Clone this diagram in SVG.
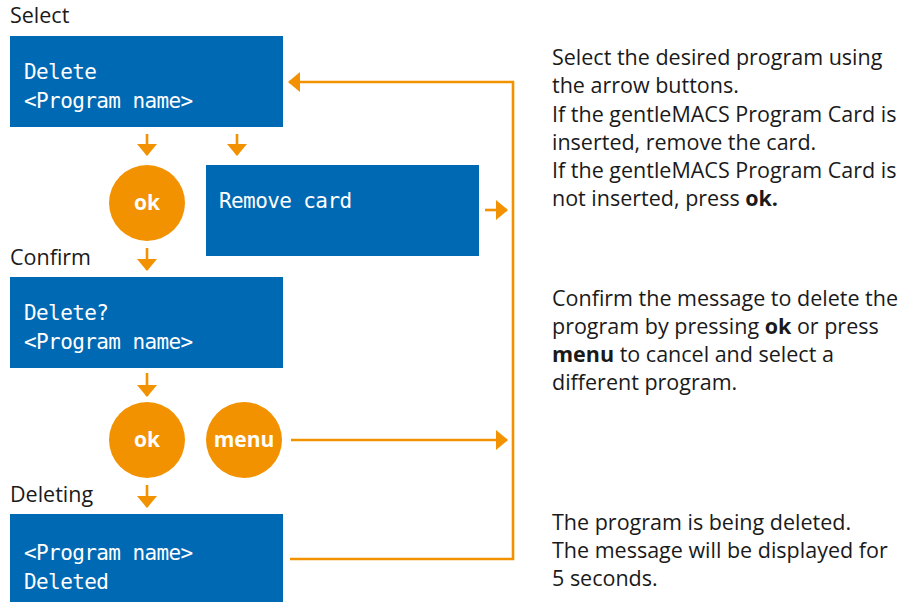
<svg xmlns="http://www.w3.org/2000/svg" width="908" height="602" viewBox="0 0 908 602">
<style>
.lcd{fill:#0069b4}
.lt{font-family:"DejaVu Sans Mono",monospace;font-size:21px;letter-spacing:-0.6px;fill:#ffffff}
.lbl{font-family:"Open Sans","Noto Sans",sans-serif;font-size:21.5px;fill:#1a1a1a}
.btn{fill:#f39200}
.bt{font-family:"Open Sans","Noto Sans",sans-serif;font-weight:bold;font-size:21px;fill:#ffffff;text-anchor:middle}
.desc{font-family:"Open Sans","Noto Sans",sans-serif;font-size:21.5px;fill:#1a1a1a}
.cn{fill:none;stroke:#f39200;stroke-width:2.6}
</style>
<defs>
<marker id="ah" viewBox="0 0 12 20" refX="11" refY="10" markerWidth="12" markerHeight="20" markerUnits="userSpaceOnUse" orient="auto">
<path d="M0,0 L12,10 L0,20 z" fill="#f39200"/>
</marker>
</defs>
<g id="label-select"><text class="lbl" x="10" y="23">Select</text></g>
<g id="label-confirm"><text class="lbl" x="10" y="265">Confirm</text></g>
<g id="label-deleting"><text class="lbl" x="10" y="502">Deleting</text></g>
<g id="lcd-select">
<rect class="lcd" x="10" y="36" width="273" height="91"/>
<text class="lt" x="24" y="79">Delete</text>
<text class="lt" x="24" y="108">&lt;Program name&gt;</text>
</g>
<g id="btn-ok1">
<circle class="btn" cx="147" cy="203" r="38"/>
<text class="bt" x="147" y="210">ok</text>
</g>
<g id="lcd-remove">
<rect class="lcd" x="206" y="165" width="273" height="91"/>
<text class="lt" x="219" y="208">Remove card</text>
</g>
<g id="lcd-confirm">
<rect class="lcd" x="10" y="277" width="273" height="91"/>
<text class="lt" x="24" y="320">Delete?</text>
<text class="lt" x="24" y="349">&lt;Program name&gt;</text>
</g>
<g id="btn-ok2">
<circle class="btn" cx="147" cy="440" r="38"/>
<text class="bt" x="147" y="447">ok</text>
</g>
<g id="btn-menu">
<circle class="btn" cx="244" cy="440" r="38"/>
<text class="bt" x="244" y="447">menu</text>
</g>
<g id="lcd-deleting">
<rect class="lcd" x="10" y="514" width="273" height="88"/>
<text class="lt" x="24" y="560">&lt;Program name&gt;</text>
<text class="lt" x="24" y="589">Deleted</text>
</g>
<g id="connectors">
<path class="cn" d="M147,134 V155" marker-end="url(#ah)"/>
<path class="cn" d="M237,134 V155" marker-end="url(#ah)"/>
<path class="cn" d="M485,210 H507" marker-end="url(#ah)"/>
<path class="cn" d="M147,248 V270" marker-end="url(#ah)"/>
<path class="cn" d="M147,373 V396" marker-end="url(#ah)"/>
<path class="cn" d="M291,440 H507" marker-end="url(#ah)"/>
<path class="cn" d="M147,485 V507" marker-end="url(#ah)"/>
<path class="cn" d="M290,559 H513 V82 H289" marker-end="url(#ah)"/>
</g>
<g id="desc-select">
<text class="desc" x="552" y="65">Select the desired program using</text>
<text class="desc" x="552" y="93">the arrow buttons.</text>
<text class="desc" x="552" y="122">If the gentleMACS Program Card is</text>
<text class="desc" x="552" y="150">inserted, remove the card.</text>
<text class="desc" x="552" y="178">If the gentleMACS Program Card is</text>
<text class="desc" x="552" y="206">not inserted, press <tspan font-weight="bold">ok.</tspan></text>
</g>
<g id="desc-confirm">
<text class="desc" x="552" y="306">Confirm the message to delete the</text>
<text class="desc" x="552" y="334">program by pressing <tspan font-weight="bold">ok</tspan> or press</text>
<text class="desc" x="552" y="362"><tspan font-weight="bold">menu</tspan> to cancel and select a</text>
<text class="desc" x="552" y="390">different program.</text>
</g>
<g id="desc-deleting">
<text class="desc" x="552" y="530">The program is being deleted.</text>
<text class="desc" x="552" y="558">The message will be displayed for</text>
<text class="desc" x="552" y="586">5 seconds.</text>
</g>
</svg>
